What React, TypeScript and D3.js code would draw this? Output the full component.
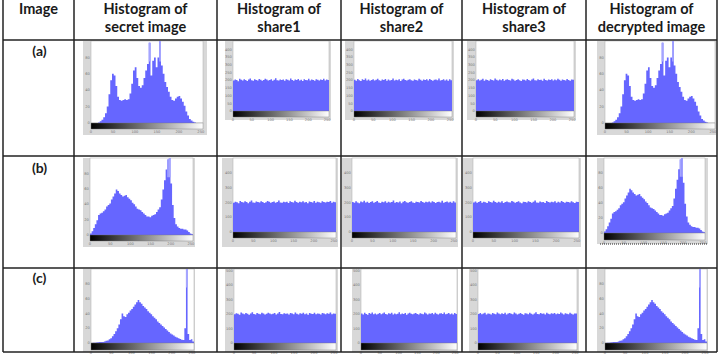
import * as d3 from "d3";

// table text
const headerLines = [
  ["Image"],
  ["Histogram of", "secret image"],
  ["Histogram of", "share1"],
  ["Histogram of", "share2"],
  ["Histogram of", "share3"],
  ["Histogram of", "decrypted  image"],
];
const rowLabels = ["(a)", "(b)", "(c)"];

const secretA = [0, 0, 0, 0, 0.5, 2, 4, 7, 12, 20, 35, 52, 60, 58, 45, 32, 28, 27, 28, 29, 28, 29, 36, 48, 64, 68, 55, 45, 43, 46, 55, 64, 72, 98, 58, 76, 80, 68, 80, 100, 70, 60, 50, 44, 38, 32, 28, 27, 30, 32, 33, 30, 26, 21, 14, 9, 5, 3, 1.5, 0.5, 0, 0, 0, 0];
const secretB = [2, 5, 9, 14, 19, 26, 28, 29, 31, 33, 37, 39, 41, 46, 50, 54, 59, 57, 54, 52, 50, 51, 52, 49, 47, 45, 42, 40, 37, 34, 33, 32, 30, 28, 26, 24, 24, 23, 25, 26, 27, 30, 33, 36, 46, 59, 71, 85, 98, 100, 67, 39, 22, 14, 11, 9, 8, 8, 7, 7, 6, 4, 2, 1];
const secretC = [0, 0.3, 0.5, 0.7, 1, 1.2, 1.5, 1.5, 2, 3, 3.5, 5, 6.5, 9, 12, 16, 20, 25, 32, 40, 36, 35, 39, 41, 44, 46, 49, 52, 55, 58, 55, 53, 50, 48, 46, 43, 41, 39, 36, 34, 32, 29, 27, 25, 23, 21, 19, 17, 15, 13, 11.5, 10, 8.5, 7.5, 6.5, 5.5, 4.5, 4, 20, 100, 12, 4, 5, 2];

// share histograms (pixel counts per bin)
const share1 = [198, 205, 201, 194, 210, 203, 199, 207, 202, 195, 204, 212, 200, 197, 206, 202, 199, 208, 203, 196, 201, 209, 204, 198, 202, 206, 197, 203, 213, 200, 198, 205, 201, 204, 196, 207, 203, 199, 211, 202, 197, 205, 201, 208, 199, 203, 195, 206, 202, 200, 209, 198, 204, 201, 197, 207, 203, 199, 205, 202, 210, 198, 204, 201];
const share2 = [203, 197, 208, 200, 195, 206, 201, 211, 199, 204, 196, 202, 207, 198, 203, 210, 200, 196, 205, 201, 208, 197, 204, 199, 202, 212, 198, 203, 200, 206, 195, 204, 209, 201, 198, 203, 207, 200, 196, 205, 202, 199, 210, 203, 197, 204, 201, 206, 199, 208, 202, 196, 203, 205, 200, 211, 198, 202, 206, 199, 204, 197, 207, 200];
const share3 = [200, 206, 198, 203, 209, 197, 204, 201, 196, 207, 202, 199, 211, 203, 198, 205, 200, 208, 196, 203, 206, 201, 199, 210, 204, 197, 202, 207, 200, 195, 205, 203, 199, 208, 202, 197, 204, 212, 200, 198, 206, 201, 203, 196, 209, 202, 199, 205, 201, 207, 198, 204, 200, 210, 203, 197, 205, 202, 199, 208, 201, 196, 204, 203];

const secretMax = [100, 100, 100];
const secretTicks = [0, 20, 40, 60, 80];
const shareMax = [455, 500, 510];
const shareTicks = [
  [0, 50, 100, 150, 200, 250, 300, 350, 400],
  [0, 100, 200, 300, 400],
  [0, 100, 200, 300, 400, 500],
];
const xTicks = [0, 50, 100, 150, 200, 250];

const secrets = [secretA, secretB, secretC];
const shares = [share1, share2, share3];

// table grid
const colX = [3, 74, 217, 341, 462, 586, 717];
const rowY = [0, 40, 156, 268, 352];

// frame [x0,x1,y0,y1], plot [x0,x1,y0,y1], colorbar height
type Box = { f: number[]; p: number[]; cb: number };
const layout: Box[][] = [
  [
    { f: [83, 207, 41, 135], p: [91, 203, 41, 123], cb: 6 },
    { f: [225, 331, 41, 120], p: [233, 329, 41, 111], cb: 6 },
    { f: [345, 454, 41, 120], p: [354, 452, 41, 111], cb: 6 },
    { f: [467, 576, 41, 120], p: [476, 574, 41, 111], cb: 6 },
    { f: [597, 716, 41, 135], p: [605, 715, 41, 123], cb: 6 },
  ],
  [
    { f: [83, 195, 158, 247], p: [90, 193, 158, 235], cb: 6 },
    { f: [222, 338, 158, 247], p: [233, 336, 158, 232], cb: 6 },
    { f: [342, 458, 158, 247], p: [352, 456, 158, 232], cb: 6 },
    { f: [463, 581, 158, 247], p: [473, 579, 158, 232], cb: 6 },
    { f: [597, 708, 158, 244], p: [604, 705, 158, 233], cb: 7 },
  ],
  [
    { f: [83, 195, 269, 352], p: [91, 194, 269, 343], cb: 7 },
    { f: [225, 338, 269, 352], p: [234, 336, 269, 343], cb: 7 },
    { f: [352, 458, 269, 352], p: [361, 457, 269, 343], cb: 7 },
    { f: [469, 579, 269, 352], p: [478, 577, 269, 343], cb: 7 },
    { f: [597, 708, 269, 352], p: [605, 707, 269, 343], cb: 7 },
  ],
];

function Histogram({ counts, yMax, yTicks, box, dotted }: any) {
  const [fx0, fx1, fy0, fy1] = box.f;
  const [px0, px1, py0, py1] = box.p;
  const x = d3.scaleLinear().domain([0, counts.length]).range([px0, px1]);
  const xv = d3.scaleLinear().domain([0, 255]).range([px0, px1]);
  const y = d3.scaleLinear().domain([0, yMax]).range([py1, py0]).clamp(true);
  // step outline so the bins have no seams between them
  const area = d3
    .area<number>()
    .x((_, i) => x(i))
    .y0(py1)
    .y1((d) => y(d))
    .curve(d3.curveStepAfter);
  const pts = counts.concat([counts[counts.length - 1]]);
  return (
    <g>
      <rect x={fx0} y={fy0} width={fx1 - fx0} height={fy1 - fy0} fill="#d8d8d8" />
      <rect x={px0} y={py0} width={px1 - px0} height={py1 - py0} fill="#fff" stroke="#aaa" strokeWidth={0.5} />
      <path d={area(pts) || ""} fill="#6666ff" />
      {counts.map((v: number, i: number) =>
        v >= yMax * 0.95 ? (
          <rect key={i} x={x(i)} y={y(v)} width={x(i + 1) - x(i)} height={y(yMax * 0.75) - y(v)} fill="#a4a4ff" />
        ) : null
      )}
      <rect x={px0} y={py1} width={px1 - px0} height={box.cb} fill="url(#grayRamp)" stroke="#777" strokeWidth={0.4} />
      {yTicks.map((t: number) => (
        <text key={"y" + t} x={px0 - 1.2} y={y(t) + 1.2} fontSize={3.6} textAnchor="end" fill="#777" fontFamily="DejaVu Sans">
          {t}
        </text>
      ))}
      {xTicks.map((t) => (
        <text key={"x" + t} x={xv(t)} y={py1 + box.cb + 4} fontSize={3.6} textAnchor="middle" fill="#777" fontFamily="DejaVu Sans">
          {t}
        </text>
      ))}
      {dotted && (
        <line x1={fx0 + 3} x2={fx1} y1={fy1} y2={fy1} stroke="#222" strokeWidth={1} strokeDasharray="1,1" />
      )}
    </g>
  );
}

export default function App() {
  const W = 719;
  const H = 358;
  return (
    <svg width={W} height={H} style={{ position: "absolute", left: 0, top: 0, background: "#fff" }}>
      <defs>
        <linearGradient id="grayRamp" x1="0" x2="1" y1="0" y2="0">
          <stop offset="0" stopColor="#000" />
          <stop offset="1" stopColor="#fff" />
        </linearGradient>
      </defs>

      {rowLabels.map((lab, r) => (
        <g key={lab}>
          {[0, 1, 2, 3, 4].map((c) => {
            const isSecret = c === 0 || c === 4;
            return (
              <Histogram
                key={c}
                counts={isSecret ? secrets[r] : shares[c - 1]}
                yMax={isSecret ? secretMax[r] : shareMax[r]}
                yTicks={isSecret ? secretTicks : shareTicks[r]}
                box={layout[r][c]}
                dotted={r === 1 && c === 4}
              />
            );
          })}
        </g>
      ))}

      {/* header */}
      {headerLines.map((lines, c) => (
        <text
          key={c}
          x={(colX[c] + colX[c + 1]) / 2}
          textAnchor="middle"
          fontFamily="Lato, 'Open Sans', sans-serif"
          fontWeight={700}
          fontSize={14.5}
          fill="#1a1a1a"
        >
          {lines.map((l, i) => (
            <tspan key={i} x={(colX[c] + colX[c + 1]) / 2} y={14 + i * 18}>
              {l}
            </tspan>
          ))}
        </text>
      ))}

      {rowLabels.map((lab, r) => (
        <text
          key={lab}
          x={(colX[0] + colX[1]) / 2 + 1}
          y={rowY[r + 1] + [16, 17, 15][r]}
          textAnchor="middle"
          fontFamily="Lato, 'Open Sans', sans-serif"
          fontWeight={700}
          fontSize={14}
          fill="#1a1a1a"
        >
          {lab}
        </text>
      ))}

      {/* grid lines */}
      {colX.map((cx, i) => (
        <line key={"v" + i} x1={cx} x2={cx} y1={0} y2={rowY[4]} stroke="#222" strokeWidth={1.5} />
      ))}
      {rowY.slice(1).map((ry, i) => (
        <line key={"h" + i} x1={colX[0]} x2={colX[6]} y1={ry} y2={ry} stroke="#222" strokeWidth={1.5} />
      ))}
    </svg>
  );
}
